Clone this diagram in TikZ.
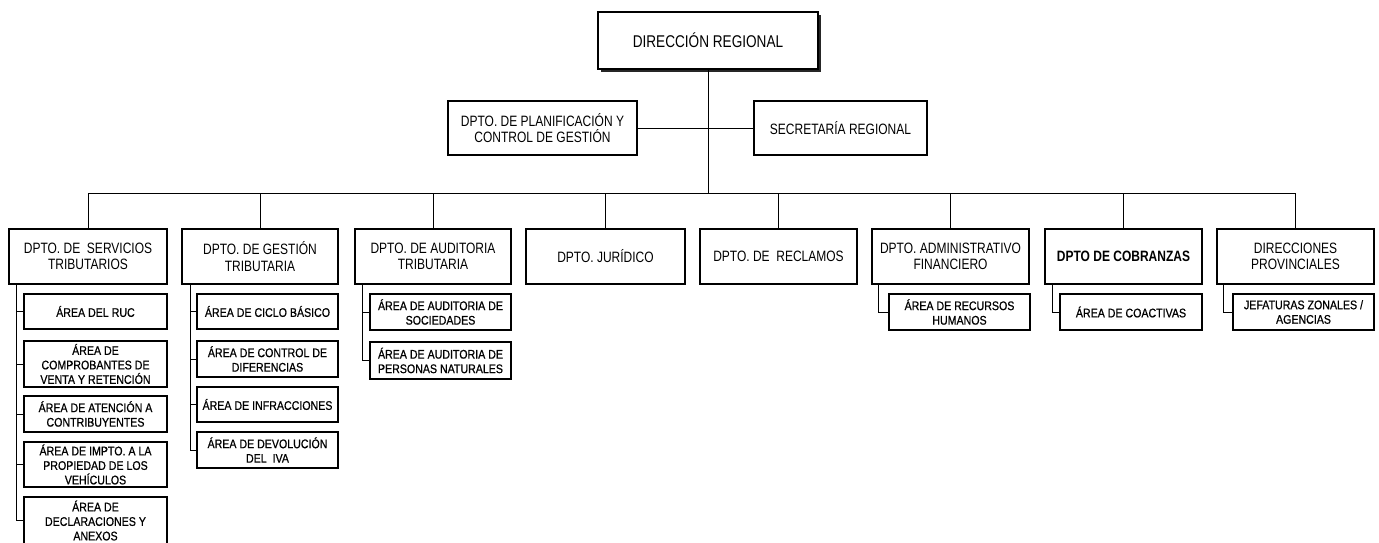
\documentclass[tikz,border=0pt]{standalone}
\usepackage{fontspec}
\setmainfont{Liberation Sans}
\newfontfamily\deptf[FakeStretch=0.8]{Liberation Sans}
\newfontfamily\subf[FakeStretch=0.85, FakeBold=0.7]{Liberation Sans}
\usetikzlibrary{shadows}
\tikzset{
  box/.style={draw, line width=1.1pt, fill=white, align=center, inner sep=1pt},
  shad/.style={drop shadow={shadow xshift=1.3pt, shadow yshift=-1.3pt, fill=black!85, opacity=1}},
  bigshad/.style={drop shadow={shadow xshift=3pt, shadow yshift=-3pt, fill=black!85, opacity=1}},
  dept/.style={box, shad, font=\deptf\fontsize{15}{16.5}\selectfont, minimum height=55pt, minimum width=157pt},
  subbox/.style={box, shad, font=\subf\fontsize{12.5}{14.5}\selectfont, minimum width=141pt},
  ln/.style={line width=1pt},
}
\begin{document}
\begin{tikzpicture}[x=1pt, y=-1pt]
\useasboundingbox (0,0) rectangle (1379,542);
% top
\node[box, bigshad, minimum width=220pt, minimum height=57pt, font=\deptf\fontsize{17}{18}\selectfont] (top) at (708,40.5) {DIRECCIÓN REGIONAL};
\node[box, shad, minimum width=189pt, minimum height=54pt, font=\deptf\fontsize{15}{16.5}\selectfont] (plan) at (542.5,128) {DPTO. DE PLANIFICACIÓN Y\\CONTROL DE GESTIÓN};
\node[box, shad, minimum width=173pt, minimum height=54pt, font=\deptf\fontsize{15}{16.5}\selectfont] (secr) at (840.5,128) {SECRETARÍA REGIONAL};
\coordinate (bus) at (708,193);
\draw[ln] (top.south) -- (bus);
\draw[ln] (plan.east) -- (secr.west);
% departments
\node[dept, minimum width=158pt] (d1) at (88,256.5) {DPTO. DE \ SERVICIOS\\TRIBUTARIOS};
\node[dept, minimum width=156pt] (d2) at (260,256.5) {DPTO. DE GESTIÓN\\TRIBUTARIA};
\node[dept, minimum width=156pt] (d3) at (433,256.5) {DPTO. DE AUDITORIA\\TRIBUTARIA};
\node[dept, minimum width=159pt] (d4) at (605.5,256.5) {DPTO. JURÍDICO};
\node[dept] (d5) at (778.5,256.5) {DPTO. DE \ RECLAMOS};
\node[dept] (d6) at (950.5,256.5) {DPTO. ADMINISTRATIVO\\FINANCIERO};
\node[dept, font=\deptf\fontsize{15}{16.5}\selectfont\bfseries] (d7) at (1123.5,256.5) {DPTO DE COBRANZAS};
\node[dept] (d8) at (1295.5,256.5) {DIRECCIONES\\PROVINCIALES};
\foreach \d in {d1,d2,d3,d4,d5,d6,d7,d8} {\draw[ln] (\d.north) |- (bus);}
% column 1
\node[subbox, minimum width=143pt, minimum height=35pt] (a1) at (95.5,311.5) {ÁREA DEL RUC};
\node[subbox, minimum width=143pt, minimum height=46pt] (a2) at (95.5,364) {ÁREA DE\\COMPROBANTES DE\\VENTA Y RETENCIÓN};
\node[subbox, minimum width=143pt, minimum height=36pt] (a3) at (95.5,414) {ÁREA DE ATENCIÓN A\\CONTRIBUYENTES};
\node[subbox, minimum width=143pt, minimum height=45pt] (a4) at (95.5,464.5) {ÁREA DE IMPTO. A LA\\PROPIEDAD DE LOS\\VEHÍCULOS};
\node[subbox, minimum width=143pt, minimum height=47pt] (a5) at (95.5,520.5) {ÁREA DE\\DECLARACIONES Y\\ANEXOS};
\foreach \s in {a1,a2,a3,a4,a5} {\draw[ln] (d1.south west) ++(8,0) |- (\s.west);}
% column 2
\node[subbox, minimum height=35pt] (b1) at (267.5,311.5) {ÁREA DE CICLO BÁSICO};
\node[subbox, minimum height=36pt] (b2) at (267.5,359) {ÁREA DE CONTROL DE\\DIFERENCIAS};
\node[subbox, minimum height=35pt] (b3) at (267.5,404.5) {ÁREA DE INFRACCIONES};
\node[subbox, minimum height=36pt] (b4) at (267.5,450) {ÁREA DE DEVOLUCIÓN\\DEL \ IVA};
\foreach \s in {b1,b2,b3,b4} {\draw[ln] (d2.south west) ++(9,0) |- (\s.west);}
% column 3
\node[subbox, minimum height=36pt] (c1) at (440.5,312) {ÁREA DE AUDITORIA DE\\SOCIEDADES};
\node[subbox, minimum height=37pt] (c2) at (440.5,360.5) {ÁREA DE AUDITORIA DE\\PERSONAS NATURALES};
\foreach \s in {c1,c2} {\draw[ln] (d3.south west) ++(8,0) |- (\s.west);}
% columns 6,7,8
\node[subbox, minimum height=36pt] (e1) at (959.5,312) {ÁREA DE RECURSOS\\HUMANOS};
\draw[ln] (d6.south west) ++(7,0) |- (e1.west);
\node[subbox, minimum width=142pt, minimum height=36pt] (f1) at (1131,312) {ÁREA DE COACTIVAS};
\draw[ln] (d7.south west) ++(8,0) |- (f1.west);
\node[subbox, minimum height=36pt] (g1) at (1303.5,312) {JEFATURAS ZONALES /\\AGENCIAS};
\draw[ln] (d8.south west) ++(7,0) |- (g1.west);
\end{tikzpicture}
\end{document}
